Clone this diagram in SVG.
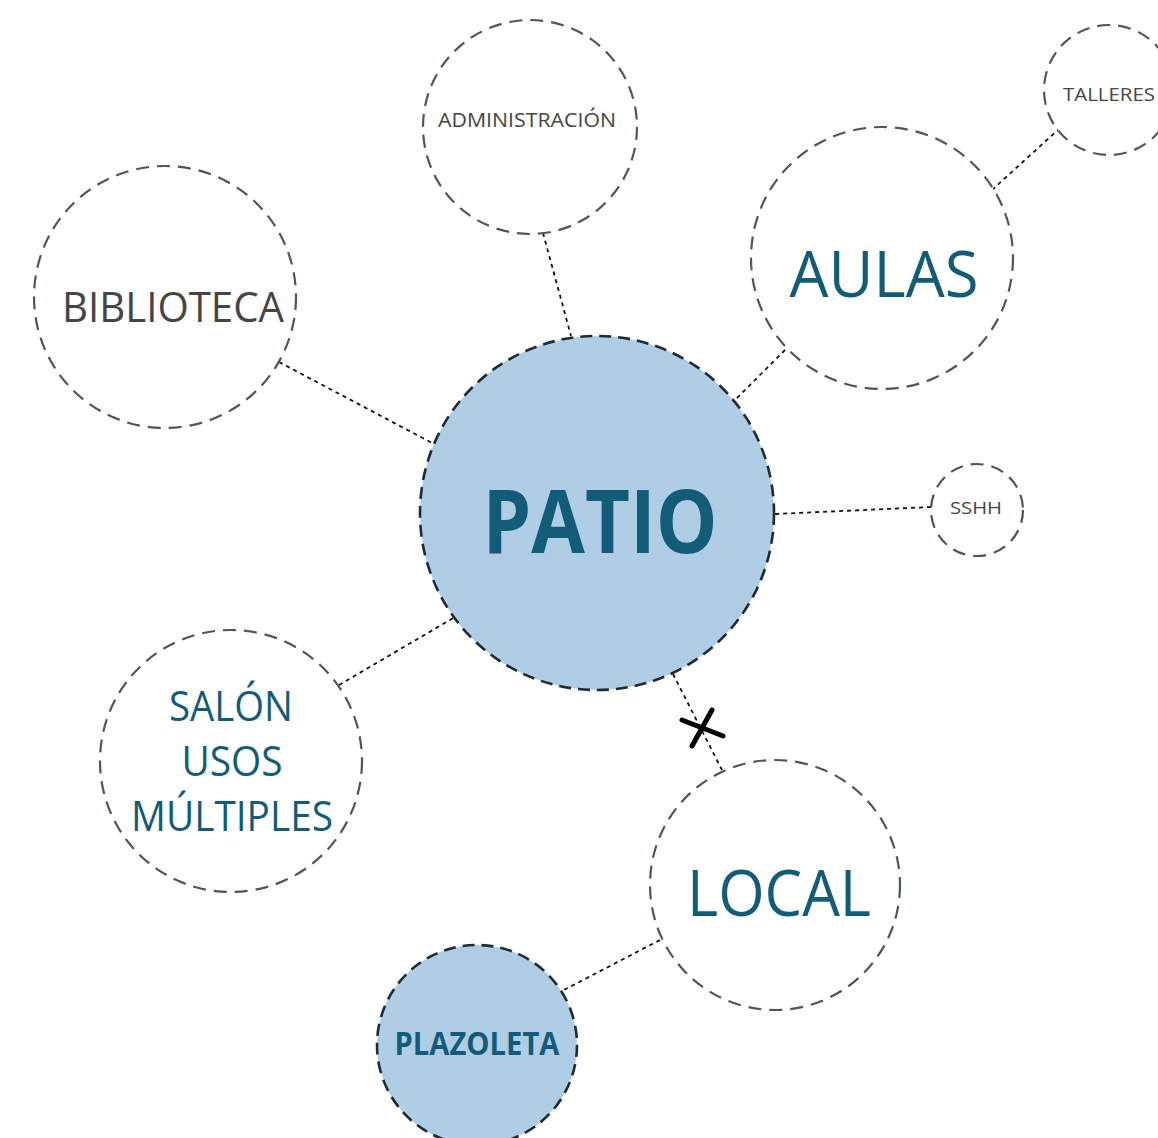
<svg xmlns="http://www.w3.org/2000/svg" width="1158" height="1138" viewBox="0 0 1158 1138">
<style>
.ring{fill:#ffffff;stroke:#4d5660;stroke-width:2.2;stroke-dasharray:13 8}
.hub{fill:#afcde4;stroke:#1e2b33;stroke-width:2.6;stroke-dasharray:12 7}
.link{stroke:#111;stroke-width:1.8;stroke-dasharray:4 4;fill:none}
.g{fill:#454545;font-family:"Open Sans","Liberation Sans",sans-serif;text-anchor:middle}
.t{fill:#135c78;font-family:"Open Sans","Liberation Sans",sans-serif;text-anchor:middle}
.b{font-weight:bold}
</style>
<rect width="1158" height="1138" fill="#ffffff"/>
<g id="connectors">
<line class="link" x1="543" y1="233" x2="571" y2="336"/>
<line class="link" x1="279" y1="362" x2="434" y2="444"/>
<line class="link" x1="785" y1="350" x2="735" y2="400"/>
<line class="link" x1="1060" y1="128" x2="992" y2="190"/>
<line class="link" x1="931" y1="507" x2="775" y2="514"/>
<line class="link" x1="339" y1="685" x2="455" y2="617"/>
<line class="link" x1="673" y1="674" x2="722" y2="770"/>
<line class="link" x1="660" y1="940" x2="560" y2="992"/>
<g stroke="#000" stroke-width="5" stroke-linecap="round">
<line x1="682" y1="720" x2="723" y2="736"/>
<line x1="712" y1="710" x2="692" y2="746"/>
</g>
</g>
<g id="administracion"><circle class="ring" cx="530" cy="127" r="107"/><text class="g" x="527" y="127" font-size="20" textLength="178" lengthAdjust="spacingAndGlyphs">ADMINISTRACIÓN</text></g>
<g id="talleres"><circle class="ring" cx="1109" cy="90" r="65"/><text class="g" x="1109" y="101" font-size="19" textLength="92" lengthAdjust="spacingAndGlyphs">TALLERES</text></g>
<g id="aulas"><circle class="ring" cx="882" cy="258" r="131"/><text class="t" x="884" y="297" font-size="64" textLength="189" lengthAdjust="spacingAndGlyphs">AULAS</text></g>
<g id="biblioteca"><circle class="ring" cx="165" cy="297" r="131"/><text class="g" x="173" y="322" font-size="42" textLength="222" lengthAdjust="spacingAndGlyphs">BIBLIOTECA</text></g>
<g id="patio"><circle class="hub" cx="597" cy="513" r="177"/><text class="t b" x="600" y="553" font-size="88" textLength="235" lengthAdjust="spacingAndGlyphs">PATIO</text></g>
<g id="sshh"><circle class="ring" cx="977" cy="510" r="46"/><text class="g" x="976" y="514" font-size="17" textLength="52" lengthAdjust="spacingAndGlyphs">SSHH</text></g>
<g id="salon"><circle class="ring" cx="231" cy="761" r="131"/>
<text class="t" font-size="42"><tspan x="231" y="721" textLength="124" lengthAdjust="spacingAndGlyphs">SALÓN</tspan><tspan x="232" y="776" textLength="101" lengthAdjust="spacingAndGlyphs">USOS</tspan><tspan x="232" y="831" textLength="202" lengthAdjust="spacingAndGlyphs">MÚLTIPLES</tspan></text></g>
<g id="local"><circle class="ring" cx="775" cy="885" r="125"/><text class="t" x="779" y="916" font-size="64" textLength="184" lengthAdjust="spacingAndGlyphs">LOCAL</text></g>
<g id="plazoleta"><circle class="hub" cx="477" cy="1045" r="100"/><text class="t b" x="477" y="1055" font-size="32" textLength="165" lengthAdjust="spacingAndGlyphs">PLAZOLETA</text></g>
</svg>
